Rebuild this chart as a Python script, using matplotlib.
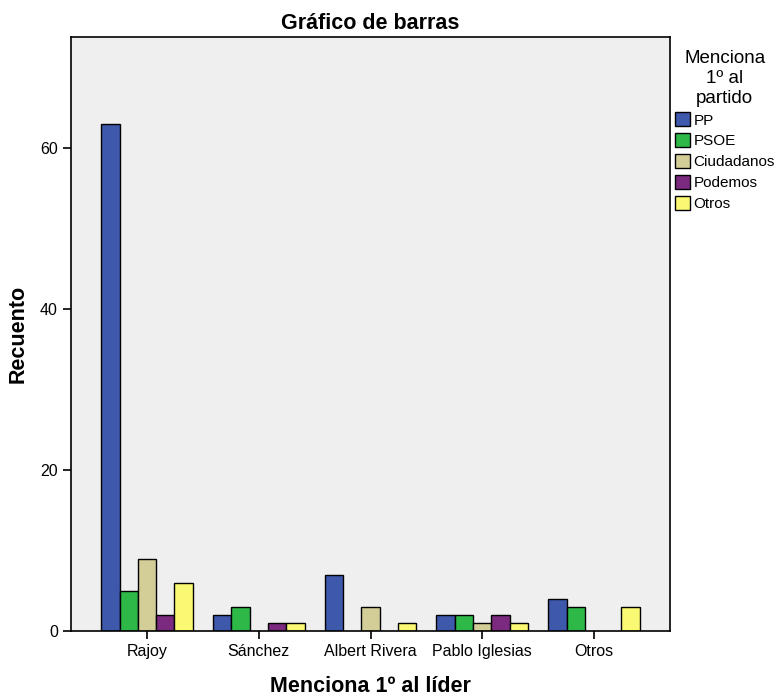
import matplotlib
matplotlib.use("Agg")
import matplotlib.pyplot as plt
import numpy as np

categories = ["Rajoy", "Sánchez", "Albert Rivera", "Pablo Iglesias", "Otros"]
series_names = ["PP", "PSOE", "Ciudadanos", "Podemos", "Otros"]
pp = [63, 2, 7, 2, 4]
psoe = [5, 3, 0, 2, 3]
ciudadanos = [9, 0, 3, 1, 0]
podemos = [2, 1, 0, 2, 0]
otros = [6, 1, 1, 1, 3]
series = [pp, psoe, ciudadanos, podemos, otros]
colors = ["#3E58AC", "#2EB848", "#D3CE97", "#7B2A7F", "#FBF873"]
yticks = [0, 20, 40, 60]

plt.rcParams['font.family'] = ['Liberation Sans', 'DejaVu Sans']

fig = plt.figure(figsize=(7.78, 6.97), dpi=100)
ax = fig.add_axes([71/778, 1-631/697, 599/778, 594/697])
ax.set_facecolor("#EFEFEF")

x = np.arange(len(categories))
w = 0.164
handles = []
for i, (vals, c, name) in enumerate(zip(series, colors, series_names)):
    pos = x + (i - 2) * w
    v = np.array(vals, dtype=float)
    mask = v > 0
    b = ax.bar(pos[mask], v[mask], width=w, color=c, edgecolor="black", linewidth=1.0, label=name)
    handles.append(b)

ax.set_xlim(-0.68, 4.68)
ax.set_ylim(0, 73.8)
ax.set_xticks(x)
ax.set_xticklabels(categories, fontsize=11.5)
ax.set_yticks(yticks)
ax.set_yticklabels([str(t) for t in yticks], fontsize=11.5)
ax.tick_params(axis="both", direction="out", length=6, width=1.2, color="black")
for s in ax.spines.values():
    s.set_linewidth(1.2)
    s.set_color("black")

ax.set_title("Gráfico de barras", fontsize=15.5, fontweight="bold", pad=6)
ax.set_xlabel("Menciona 1º al líder", fontsize=15.5, fontweight="bold", labelpad=12)
ax.set_ylabel("Recuento", fontsize=15.5, fontweight="bold", labelpad=8)

leg = ax.legend(handles=handles, labels=series_names, title="Menciona\n1º al\npartido",
                loc="upper left", bbox_to_anchor=(1.0, 0.985), frameon=False,
                fontsize=11, title_fontsize=13.5, handlelength=1.0, handleheight=1.0,
                handletextpad=0.25, labelspacing=0.38, borderaxespad=0.1, borderpad=0.2)
leg.get_title().set_multialignment("center")
leg._legend_box.align = "center"

fig.savefig("out.png", dpi=100)
